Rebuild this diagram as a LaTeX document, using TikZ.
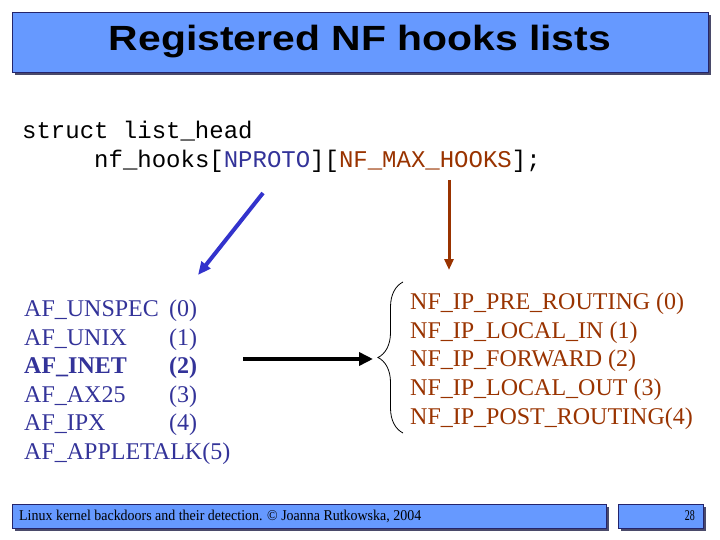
\documentclass[tikz,border=0pt]{standalone}
\usepackage{fontspec}
\setmainfont{Liberation Serif}
\setmonofont{Liberation Mono}
\newfontfamily\headfont{Liberation Sans}
\usepackage{tikz}
\usetikzlibrary{arrows.meta, positioning, calc, decorations.pathreplacing, shadows}
\definecolor{slideBlue}{HTML}{6699FF}
\definecolor{shadeBlue}{HTML}{4A4A6A}
\definecolor{familyBlue}{HTML}{333399}
\definecolor{hookBrown}{HTML}{993300}
\definecolor{arrowBlue}{HTML}{3333CC}

\begin{document}
\begin{tikzpicture}[
    x=1pt, y=-1pt,
    bar/.style={draw=familyBlue!70!black, line width=0.8pt, fill=slideBlue,
                drop shadow={shadow xshift=3pt, shadow yshift=-3pt, fill=shadeBlue, opacity=1},
                inner sep=0pt},
    code/.style={anchor=base west, inner sep=0pt, font=\ttfamily\fontsize{24}{24}\selectfont},
    family/.style={anchor=base west, inner sep=0pt, text=familyBlue, font=\fontsize{24}{24}\selectfont},
    hook/.style={anchor=base west, inner sep=0pt, text=hookBrown, font=\fontsize{24}{24}\selectfont},
    foot/.style={inner sep=0pt, font=\fontsize{15}{15}\selectfont},
  ]
    \useasboundingbox (0,0) rectangle (720,540);

    \node[bar, minimum width=696pt, minimum height=60pt] (title) at (360,42)
      {\headfont\bfseries\fontsize{35}{35}\selectfont\resizebox{502pt}{\height}{Registered NF hooks lists}};

    \node[code] (codeA) at (22,139) {struct list\_head};
    \node[code] (codeB) at (94,168) {nf\_hooks[\textcolor{familyBlue}{NPROTO}][\textcolor{hookBrown}{NF\_MAX\_HOOKS}];};

    % protocol families
    \node[family] (f0) at (24,316) {\makebox[145pt][l]{AF\_UNSPEC}(0)};
    \node[family] (f1) at (24,345) {\makebox[145pt][l]{AF\_UNIX}(1)};
    \node[family] (f2) at (24,373) {\bfseries\makebox[145pt][l]{AF\_INET}(2)};
    \node[family] (f3) at (24,402) {\makebox[145pt][l]{AF\_AX25}(3)};
    \node[family] (f4) at (24,430) {\makebox[145pt][l]{AF\_IPX}(4)};
    \node[family] (f5) at (24,459) {AF\_APPLETALK(5)};

    % hooks
    \node[hook] (h0) at (410,309) {NF\_IP\_PRE\_ROUTING (0)};
    \node[hook] (h1) at (410,338) {NF\_IP\_LOCAL\_IN (1)};
    \node[hook] (h2) at (410,366) {NF\_IP\_FORWARD (2)};
    \node[hook] (h3) at (410,395) {NF\_IP\_LOCAL\_OUT (3)};
    \node[hook] (h4) at (410,424) {NF\_IP\_POST\_ROUTING(4)};

    \coordinate (protoTail) at (263,193);
    \coordinate (protoHead) at (198,275);
    \coordinate (hooksTail) at (449,180);
    \coordinate (hooksHead) at (449,270);
    \coordinate (inetTail) at (243,359);
    \coordinate (braceTip) at (373,359);
    \coordinate (braceTop) at (403,282);
    \coordinate (braceBot) at (403,433);

    \draw[-{Triangle[length=13pt, width=11pt]}, line width=4pt, arrowBlue] (protoTail) -- (protoHead);
    \draw[-{Triangle[length=11pt, width=9pt]}, line width=3pt, hookBrown] (hooksTail) -- (hooksHead);
    \draw[-{Triangle[length=14pt, width=13pt]}, line width=4pt, black] (inetTail) -- (braceTip);
    \draw[decorate, decoration={brace, amplitude=25pt, aspect=0.5}, line width=0.8pt] (braceBot) -- (braceTop);

    % footer
    \node[bar, minimum width=594pt, minimum height=24pt] (footer) at (309,516) {};
    \node[foot, anchor=west] (credit) at (19,516)
      {\resizebox{402pt}{\height}{Linux kernel backdoors and their detection. © Joanna Rutkowska, 2004}};
    \node[bar, minimum width=85pt, minimum height=24pt] (pagebox) at (660.5,516) {};
    \node[foot, anchor=east] (pagenum) at (695,516) {\resizebox{10pt}{\height}{28}};
  \end{tikzpicture}
\end{document}
